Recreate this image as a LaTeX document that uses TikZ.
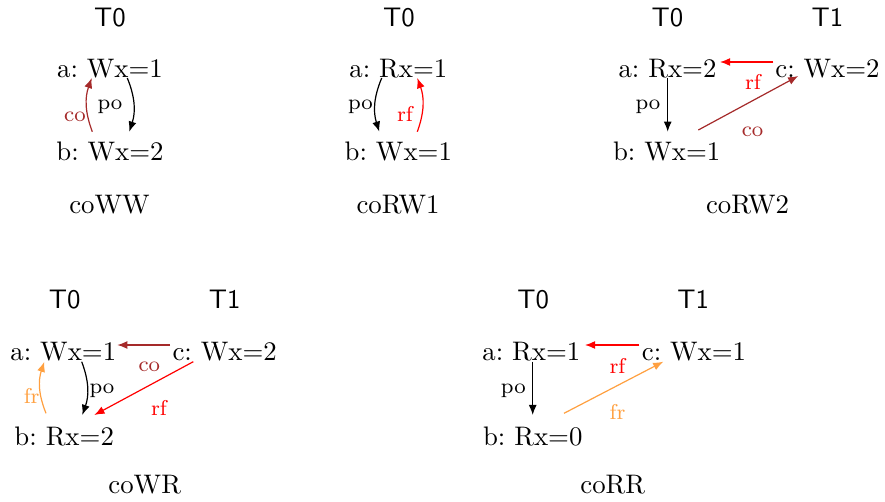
\documentclass[tikz,border=0pt]{standalone}
\usetikzlibrary{calc,arrows.meta}
\definecolor{cobrown}{HTML}{A52A2A}
\definecolor{rfred}{HTML}{FF0000}
\definecolor{frorange}{HTML}{FFA040}
\begin{document}
\begin{tikzpicture}[x=0.3731pt,y=-0.3731pt,
  ev/.style={anchor=base,inner sep=0pt,font=\normalsize},
  thr/.style={anchor=base,inner sep=0pt,font=\sffamily},
  captxt/.style={anchor=base,inner sep=0pt},
  lab/.style={anchor=base,inner sep=0pt,font=\footnotesize},
  rel/.style={line width=0.45pt,-{Latex[length=3.8pt,width=3pt]}},
  porel/.style={rel,black},
  corel/.style={rel,cobrown},
  rfrel/.style={rel,rfred},
  frrel/.style={rel,frorange}]
\useasboundingbox (0,0) rectangle (885,501);

% ---------- coWW ----------
\node[thr] (wwT0) at (110,27) {T0};
\node[ev] (wwa) at (110,78) {a:\ Wx=1};
\node[ev] (wwb) at (110,160) {b:\ Wx=2};
\node[captxt] (wwcap) at (109.5,213) {coWW};
\draw[porel] ($(wwa.base)+(17.3,0)$) to[bend left=20] ($(wwb.base)+(19.3,-28.3)$);
\draw[corel] ($(wwb.base)+(-17.7,-28.3)$) to[bend left=20] ($(wwa.base)+(-18.3,0)$);
\node[lab] (wwpo) at (110,110) {po};
\node[lab,text=cobrown] (wwco) at (75,121.7) {co};

% ---------- coRW1 ----------
\node[thr] (rw1T0) at (399,27) {T0};
\node[ev] (rw1a) at (398.3,78) {a:\ Rx=1};
\node[ev] (rw1b) at (398.3,160) {b:\ Wx=1};
\node[captxt] (rw1cap) at (398,213) {coRW1};
\draw[porel] ($(rw1a.base)+(-16.6,0)$) to[bend right=20] ($(rw1b.base)+(-19,-28.3)$);
\draw[rfrel] ($(rw1b.base)+(19,-28.3)$) to[bend right=20] ($(rw1a.base)+(19,0)$);
\node[lab] (rw1po) at (360.5,110) {po};
\node[lab,text=rfred] (rw1rf) at (405,121.7) {rf};

% ---------- coRW2 ----------
\node[thr] (rw2T0) at (667.5,27) {T0};
\node[thr] (rw2T1) at (827.5,27) {T1};
\node[ev] (rw2a) at (667.5,78) {a:\ Rx=2};
\node[ev] (rw2c) at (827.5,78) {c:\ Wx=2};
\node[ev] (rw2b) at (666.7,160) {b:\ Wx=1};
\node[captxt] (rw2cap) at (747.5,213) {coRW2};
\draw[porel] ($(rw2a.base)+(0.2,0)$) -- ($(rw2b.base)+(1,-28.3)$);
\draw[rfrel] ($(rw2c.base)+(-54.2,-16)$) -- ($(rw2a.base)+(52.5,-16)$);
\draw[corel] ($(rw2b.base)+(31.6,-30)$) -- ($(rw2c.base)+(-29.2,-2)$);
\node[lab] (rw2po) at (648,110) {po};
\node[lab,text=rfred] (rw2rf) at (753,90) {rf};
\node[lab,text=cobrown] (rw2co) at (752.5,136.7) {co};

% ---------- coWR ----------
\node[thr] (wrT0) at (64.7,308) {T0};
\node[thr] (wrT1) at (224.7,308) {T1};
\node[ev] (wra) at (63.3,360) {a:\ Wx=1};
\node[ev] (wrc) at (224.7,360) {c:\ Wx=2};
\node[ev] (wrb) at (64.2,445) {b:\ Rx=2};
\node[captxt] (wrcap) at (144.7,493.3) {coWR};
\draw[corel] ($(wrc.base)+(-54.7,-15)$) -- ($(wra.base)+(54,-15)$);
\draw[rfrel] ($(wrc.base)+(-31.4,1.7)$) -- ($(wrb.base)+(30.1,-30)$);
\draw[porel] ($(wra.base)+(18.4,1.7)$) to[bend left=20] ($(wrb.base)+(18.1,-30)$);
\draw[frrel] ($(wrb.base)+(-18.2,-31.7)$) to[bend left=20] ($(wra.base)+(-19,1.7)$);
\node[lab,text=cobrown] (wrco) at (149.3,371.7) {co};
\node[lab,text=rfred] (wrrf) at (159,415) {rf};
\node[lab] (wrpo) at (102,393.3) {po};
\node[lab,text=frorange] (wrfr) at (31.7,403.3) {fr};

% ---------- coRR ----------
\node[thr] (rrT0) at (533.3,308) {T0};
\node[thr] (rrT1) at (693.3,308) {T1};
\node[ev] (rra) at (531.3,360) {a:\ Rx=1};
\node[ev] (rrc) at (694,360) {c:\ Wx=1};
\node[ev] (rrb) at (532.7,445) {b:\ Rx=0};
\node[captxt] (rrcap) at (612.8,493.3) {coRR};
\draw[rfrel] ($(rrc.base)+(-54.7,-15)$) -- ($(rra.base)+(53.7,-15)$);
\draw[porel] ($(rra.base)+(1.4,1.7)$) -- ($(rrb.base)+(0,-30)$);
\draw[frrel] ($(rrb.base)+(31.3,-31.7)$) -- ($(rrc.base)+(-30.7,1.7)$);
\node[lab] (rrpo) at (513.3,393.3) {po};
\node[lab,text=rfred] (rrrf) at (617.5,373.3) {rf};
\node[lab,text=frorange] (rrfr) at (617.5,419.3) {fr};
\end{tikzpicture}
\end{document}
